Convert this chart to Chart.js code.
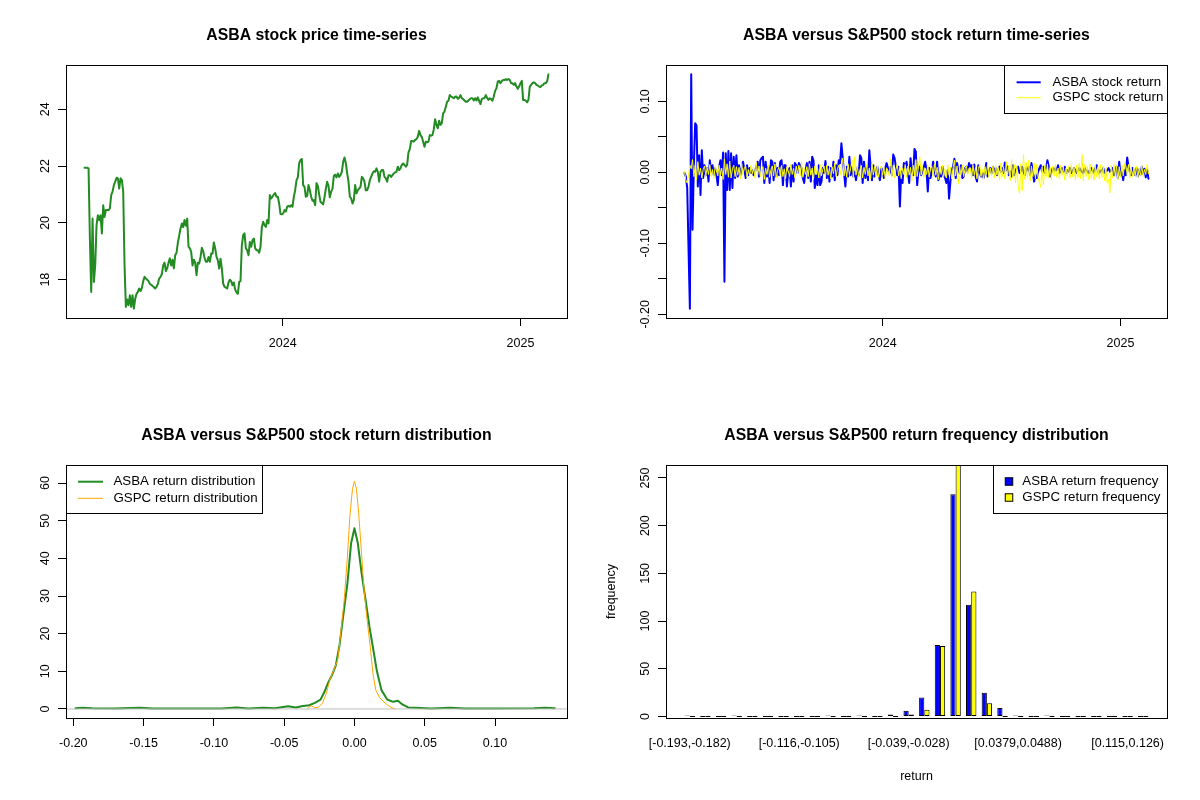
<!DOCTYPE html>
<html><head><meta charset="utf-8">
<script src="https://cdn.jsdelivr.net/npm/chart.js@4.4.1/dist/chart.umd.min.js"></script>
<style>
html,body{margin:0;padding:0;background:#fff;}
body{width:1200px;height:800px;position:relative;overflow:hidden;}
.p{position:absolute;width:600px;height:400px;}
canvas{display:block;}
</style></head><body>
<div class="p" style="left:0;top:0"><canvas id="c1" width="600" height="400"></canvas></div>
<div class="p" style="left:600px;top:0"><canvas id="c2" width="600" height="400"></canvas></div>
<div class="p" style="left:0;top:400px"><canvas id="c3" width="600" height="400"></canvas></div>
<div class="p" style="left:600px;top:400px"><canvas id="c4" width="600" height="400"></canvas></div>
<script>
// ---------------- DATA ----------------
const seriesStartDate = '2023-03-02';
const seriesEndDate = '2025-02-13';
const yearTickDates = ['2024-01-01', '2025-01-01'];
const yearTickLabels = ['2024', '2025'];

const asbaPrice = [
21.94,21.94,21.94,21.92,19.45,17.57,20.15,17.92,18.51,19.92,20.27,20.09,20.27,19.63,20.62,20.21,20.45,20.45,20.45,20.51,
20.98,21.10,21.33,21.45,21.59,21.57,21.21,21.57,21.51,21.10,18.5,17.04,17.3,17.1,17.45,17.04,17.45,16.98,17.33,17.5,
17.57,17.69,17.6,17.7,17.95,18.1,18.04,18.0,17.95,17.85,17.82,17.78,17.74,17.69,17.75,17.85,18.04,18.1,18.2,18.5,
18.6,18.3,18.4,18.6,18.75,18.5,18.7,18.4,18.86,18.95,19.3,19.55,19.8,19.98,19.85,20.1,19.9,20.15,19.16,19.1,
18.98,18.5,18.7,18.6,18.16,18.6,18.57,18.80,19.12,19.0,18.77,18.63,18.63,18.8,18.63,18.92,18.92,19.31,19.1,18.8,
18.68,18.39,18.74,18.39,17.86,17.75,17.72,17.69,17.9,18.0,17.95,17.8,17.9,17.65,17.55,17.5,17.92,17.95,19.21,19.57,
19.63,19.1,19.04,18.86,19.33,19.16,19.39,19.45,19.1,19.04,19.04,18.95,19.16,19.85,20.04,19.92,19.86,20.1,19.98,20.98,
20.86,20.92,21.0,21.05,20.92,20.92,20.68,20.31,20.3,20.33,20.45,20.4,20.57,20.6,20.57,20.62,20.57,20.92,21.15,21.5,
21.6,22.1,22.21,22.25,21.33,21.27,20.92,20.95,21.33,21.15,20.92,20.78,20.8,20.62,21.4,
21.3,21.0,20.74,20.7,20.65,20.9,21.2,21.45,21.3,20.9,21.1,21.2,21.65,21.7,21.6,21.74,21.62,21.68,21.8,22.15,
22.3,22.1,21.75,21.45,20.92,20.86,20.68,20.8,21.33,21.04,21.15,21.21,21.27,21.62,21.57,21.45,21.15,21.15,21.27,21.5,
21.62,21.74,21.82,21.8,21.92,21.8,21.45,21.8,21.86,21.86,21.62,21.57,21.45,21.68,21.68,21.62,21.68,21.74,21.78,21.8,
21.98,21.86,21.92,22.04,22.09,22.04,21.98,22.04,22.48,22.6,22.88,22.88,22.86,22.92,22.95,23.03,23.24,23.09,23.03,22.86,
22.68,22.86,22.84,22.86,23.09,23.07,23.09,23.3,23.65,23.45,23.33,23.6,23.45,23.51,23.86,23.92,24.09,24.27,24.3,24.5,
24.45,24.42,24.39,24.44,24.45,24.37,24.4,24.5,24.39,24.36,24.31,24.27,24.27,24.31,24.36,24.39,24.39,24.31,24.39,24.31,
24.42,24.3,24.18,24.36,24.39,24.39,24.5,24.4,24.33,24.39,24.36,24.3,24.45,24.65,24.74,24.98,25.0,24.92,25.0,25.03,
25.03,25.06,25.03,25.07,25.03,24.92,24.92,24.86,24.92,24.8,24.72,24.80,24.92,25.0,24.33,24.33,24.3,24.25,24.33,24.8,
24.86,24.92,24.95,24.92,24.86,24.84,24.80,24.78,24.84,24.86,24.92,24.92,24.98,25.23
];

const asbaReturn = [
-0.001,-0.006,-0.022,-0.109,-0.192,0.138,-0.081,0.010,0.069,0.066,-0.020,0.024,-0.032,0.031,-0.008,0.010,-0.004,0.006,-0.013,0.017,
0.001,0.010,-0.004,0.006,-0.004,-0.018,0.008,0.017,-0.004,0.028,-0.154,0.027,-0.025,0.030,-0.025,0.027,-0.022,0.022,-0.008,0.024,
-0.006,0.010,-0.004,0.006,0.015,0.003,-0.008,0.010,-0.004,0.006,-0.001,0.003,-0.004,0.001,0.008,0.015,-0.006,0.017,0.020,0.022,
-0.015,0.015,-0.006,0.008,-0.015,0.017,0.015,-0.011,0.013,-0.006,0.006,-0.004,0.015,0.017,-0.018,0.010,0.010,-0.020,0.001,0.006,
-0.020,0.010,-0.013,0.013,0.010,-0.001,0.013,0.010,0.006,-0.008,-0.015,0.003,
0.013,-0.008,0.015,-0.013,0.022,0.017,-0.022,-0.004,-0.018,0.010,-0.018,-0.013,0.006,-0.001,0.016,-0.008,0.008,-0.013,0.006,-0.006,
0.015,-0.011,0.010,-0.004,0.017,0.013,0.041,0.020,-0.001,-0.020,0.008,-0.006,0.022,-0.004,0.008,-0.006,0.001,-0.011,0.006,-0.004,
0.024,0.020,-0.015,0.015,-0.008,0.006,-0.011,0.031,0.008,-0.011,0.010,-0.006,0.001,0.008,-0.004,-0.011,0.006,0.003,-0.008,0.006,
0.013,0.006,-0.001,0.008,-0.004,0.025,0.020,0.008,-0.004,0.008,-0.048,0.001,-0.015,0.013,0.006,0.015,0.001,-0.015,0.020,0.001,
-0.004,0.033,0.029,-0.018,0.003,0.008,-0.004,0.001,0.008,0.015,0.003,-0.027,0.006,-0.008,0.001,0.015,0.003,-0.006,0.015,-0.011,
-0.001,-0.006,0.008,-0.004,-0.008,-0.015,0.003,-0.037,-0.013,0.003,0.008,0.019,-0.008,0.013,0.003,-0.001,0.010,-0.008,-0.006,0.006,
0.008,0.001,0.013,
0.008,0.010,-0.004,0.011,-0.006,-0.013,0.010,0.001,-0.006,-0.001,-0.008,0.001,0.013,-0.006,0.001,0.006,-0.001,0.008,0.001,0.006,
-0.004,0.003,0.008,0.001,0.006,-0.001,0.014,0.003,0.008,-0.004,0.001,-0.006,0.010,-0.004,0.003,0.006,0.008,-0.001,0.001,0.008,
0.001,-0.004,0.006,0.003,0.008,-0.004,0.013,0.001,-0.013,-0.004,-0.008,0.001,0.006,0.010,0.001,0.008,-0.001,0.006,0.017,0.008,
-0.006,0.001,0.006,0.001,0.006,0.003,0.010,-0.001,0.001,0.006,0.001,0.008,-0.001,0.003,0.001,0.006,-0.001,0.001,0.006,0.003,
-0.001,0.001,0.006,0.003,0.001,-0.001,0.006,0.001,0.003,-0.001,0.001,0.006,0.003,-0.001,0.006,0.010,0.001,-0.001,0.003,0.001,
0.006,-0.001,0.001,0.003,0.006,0.001,0.003,0.006,-0.004,0.001,0.008,-0.008,0.015,-0.004,0.001,-0.011,0.003,-0.004,0.021,0.008,
0.001,-0.004,0.006,
0.003,-0.004,0.006,-0.006,0.004,-0.003,0.008,-0.002,0.005,-0.007,0.004,-0.009
];

const gspcReturn = [
0.001,-0.011,-0.015,-0.004,0.010,0.005,0.018,-0.006,0.010,-0.011,0.015,-0.004,0.006,-0.008,0.004,0.009,-0.005,0.007,-0.003,0.011,
-0.006,0.004,-0.009,0.008,0.002,-0.005,0.010,-0.004,0.006,-0.010,0.019,-0.003,0.012,-0.007,0.016,-0.008,0.005,0.010,-0.006,0.008,
-0.004,0.007,-0.009,0.012,-0.003,0.006,0.009,-0.007,0.004,-0.005,0.010,-0.002,0.007,-0.008,0.014,-0.004,0.009,-0.006,0.003,0.008,
-0.010,0.006,-0.003,0.011,-0.007,0.004,0.009,-0.005,0.012,-0.008,0.003,0.007,-0.004,0.010,-0.006,0.005,-0.009,0.008,0.002,-0.006,
0.011,-0.003,0.006,-0.008,0.009,-0.002,0.010,-0.005,0.015,-0.007,0.006,-0.003,
0.008,-0.006,0.012,-0.004,0.006,-0.010,0.009,-0.003,0.007,-0.008,0.011,-0.005,0.004,0.009,-0.007,0.010,-0.004,0.006,-0.009,0.008,
-0.002,0.013,-0.006,0.005,0.010,-0.004,0.008,0.020,-0.005,0.009,-0.007,0.012,-0.003,0.006,0.018,-0.008,0.022,-0.004,0.009,-0.006,
0.004,0.010,-0.008,0.007,-0.003,0.011,-0.005,0.006,-0.009,0.012,-0.004,0.008,-0.006,0.010,-0.007,0.005,0.009,-0.004,0.007,-0.010,
0.006,0.003,-0.005,0.019,-0.006,0.010,-0.008,0.004,0.012,-0.005,0.008,-0.009,0.006,-0.003,0.011,-0.007,0.009,-0.004,0.007,-0.012,
0.010,-0.005,0.018,-0.006,0.008,0.022,-0.004,0.009,-0.008,0.006,-0.003,0.011,-0.007,0.005,0.009,-0.006,0.012,-0.004,0.007,-0.010,
0.008,-0.003,0.010,-0.006,0.005,-0.008,0.011,-0.004,0.007,-0.009,0.006,0.017,-0.005,0.009,-0.016,0.008,-0.004,0.010,-0.006,0.005,
0.009,-0.003,0.006,
0.006,-0.008,0.010,-0.004,0.007,-0.009,0.005,0.011,-0.006,0.004,-0.010,0.008,-0.003,0.012,-0.007,0.006,-0.005,0.009,-0.008,0.010,
-0.004,0.007,-0.011,0.013,-0.006,0.008,-0.009,0.015,-0.005,0.010,-0.012,0.018,-0.008,0.011,-0.015,0.009,-0.020,-0.030,0.012,-0.026,
0.025,-0.010,0.014,-0.008,0.017,-0.012,0.009,-0.006,0.013,-0.009,0.011,-0.007,-0.015,-0.021,0.008,-0.018,0.010,-0.006,0.012,-0.008,
0.007,-0.010,0.009,-0.005,0.011,-0.007,0.006,-0.009,0.010,-0.004,0.008,-0.011,0.006,-0.005,0.009,-0.008,0.012,-0.006,0.007,-0.010,
0.010,-0.007,0.013,-0.009,0.025,-0.012,0.011,-0.006,0.009,-0.010,0.012,-0.008,0.007,-0.011,0.010,-0.006,0.008,-0.009,0.011,-0.007,
0.009,-0.012,0.007,-0.015,-0.010,-0.029,0.010,-0.008,0.012,-0.006,0.009,-0.011,0.008,-0.007,0.010,-0.005,0.012,0.010,-0.004,0.011,
-0.008,0.006,-0.006,
0.007,-0.005,0.009,-0.008,0.006,-0.004,0.010,-0.006,0.004,-0.003,0.011,-0.002
];
const returnTicks = [-0.20,-0.15,-0.10,-0.05,0.00,0.05,0.10];

const asbaDensX = [-0.1984,-0.1935,-0.1867,-0.1705,-0.1528,-0.1434,-0.1163,-0.0946,-0.0837,-0.0756,-0.0648,-0.0566,-0.0472,-0.0417,-0.0377,-0.0322,-0.0282,-0.0241,-0.0214,-0.0187,-0.016,-0.0133,-0.0106,-0.0079,-0.0051,-0.0024,0.0,0.0024,0.0051,0.0079,0.0106,0.0133,0.016,0.0192,0.0233,0.0274,0.0309,0.0341,0.0382,0.0436,0.0545,0.068,0.0789,0.1005,0.1276,0.1358,0.1425];
const asbaDensY = [0.2,0.35,0.2,0.15,0.35,0.15,0.15,0.15,0.4,0.15,0.3,0.2,0.7,0.4,0.7,1.0,1.6,2.5,4.5,7.0,9.0,11.5,17,25,33,44,48,44,36,29,22,16,10,5,2.5,1.9,2.2,1.2,0.4,0.3,0.15,0.35,0.15,0.15,0.2,0.35,0.2];
const gspcDensX = [-0.0336,-0.0309,-0.0282,-0.0255,-0.0228,-0.0201,-0.0173,-0.0146,-0.0119,-0.0098,-0.0073,-0.0051,-0.0033,-0.0014,0,0.0014,0.003,0.0051,0.007,0.0089,0.0111,0.0133,0.0152,0.0179,0.022,0.026,0.0287];
const gspcDensY = [0.05,0.9,0.3,0.5,1.5,4,8,10.5,13,20,29,40,51,58.5,60.5,58.5,52,41,31,24,17,9,5,3,1.5,0.4,0.05];
const densXTicks = [-0.20,-0.15,-0.10,-0.05,0.00,0.05,0.10];
const densYTicks = [0,10,20,30,40,50,60];

const binLabels = ['[-0.193,-0.182)','[-0.182,-0.171)','[-0.171,-0.16)','[-0.16,-0.149)','[-0.149,-0.138)','[-0.138,-0.127)','[-0.127,-0.116)','[-0.116,-0.105)','[-0.105,-0.094)','[-0.094,-0.083)','[-0.083,-0.072)','[-0.072,-0.061)','[-0.061,-0.05)','[-0.05,-0.039)','[-0.039,-0.028)','[-0.028,-0.0171)','[-0.0171,-0.00608)','[-0.00608,0.00491)','[0.00491,0.0159)','[0.0159,0.0269)','[0.0269,0.0379)','[0.0379,0.0488)','[0.0488,0.0598)','[0.0598,0.0708)','[0.0708,0.0818)','[0.0818,0.0928)','[0.0928,0.104)','[0.104,0.115)','[0.115,0.126)','[0.126,0.137)'];
const asbaFreq = [1,0,0,1,0,0,0,0,0,1,0,1,0,2,6,20,75,233,117,25,9,1,0,1,0,0,0,0,0,0];
const gspcFreq = [0,0,0,0,0,0,0,0,0,0,0,0,0,0,2,7,74,265,131,14,0,0,0,0,0,0,0,0,0,0];
const freqTicks = [0,50,100,150,200,250];

// ---------------- HELPERS ----------------
const FONT = '"Liberation Sans", Arial, Helvetica, sans-serif';
const EPOCH = Date.parse('2024-01-01T00:00:00Z');
function dayNum(s){ return (Date.parse(s + 'T00:00:00Z') - EPOCH) / 86400000; }
function timeSeries(values){
  const a = dayNum(seriesStartDate), b = dayNum(seriesEndDate), n = values.length;
  return values.map((v, i) => ({x: a + (b - a) * i / (n - 1), y: v}));
}
function rRange(mn, mx){ const p = 0.04 * (mx - mn); return [mn - p, mx + p]; }
function arrMin(a){ return Math.min.apply(null, a); }
function arrMax(a){ return Math.max.apply(null, a); }

const rPlot = {
  id: 'rPlot',
  afterDraw(chart, args, o){
    const ctx = chart.ctx, a = chart.chartArea;
    const xs = chart.scales.x, ys = chart.scales.y;
    ctx.save();
    ctx.fillStyle = '#000'; ctx.strokeStyle = '#000'; ctx.lineWidth = 1;
    const L = Math.round(a.left) + 0.5, T = Math.round(a.top) + 0.5, R = Math.round(a.right) + 0.5, B = Math.round(a.bottom) + 0.5;
    ctx.strokeRect(L, T, R - L, B - T);
    // title
    ctx.font = 'bold 15.8px ' + FONT; ctx.textAlign = 'center'; ctx.textBaseline = 'alphabetic';
    ctx.fillText(o.title, (a.left + a.right) / 2, 40);
    // tick labels
    ctx.font = '12.5px ' + FONT;
    xs.ticks.forEach((t, i) => { const lab = o.xLabel(t.value, i); if (lab) ctx.fillText(lab, xs.getPixelForValue(t.value), 347); });
    ys.ticks.forEach((t, i) => {
      const lab = o.yLabel(t.value, i); if (!lab) return;
      ctx.save(); ctx.translate(48.5, ys.getPixelForValue(t.value)); ctx.rotate(-Math.PI / 2);
      ctx.fillText(lab, 0, 0); ctx.restore();
    });
    if (o.xTitle) ctx.fillText(o.xTitle, (a.left + a.right) / 2, 379.5);
    if (o.yTitle) { ctx.save(); ctx.translate(14.5, (a.top + a.bottom) / 2); ctx.rotate(-Math.PI / 2); ctx.fillText(o.yTitle, 0, 0); ctx.restore(); }
    // legend
    if (o.legend) {
      const lg = o.legend;
      const x1 = Math.round(lg.x1) + 0.5, y2 = Math.round(lg.y2) + 0.5;
      const x2 = lg.x2 !== undefined ? Math.round(lg.x2) + 0.5 : R;
      ctx.strokeStyle = '#000'; ctx.lineWidth = 1;
      ctx.strokeRect(x1, T, x2 - x1, y2 - T);
      ctx.font = '13.3px ' + FONT; ctx.textAlign = 'left'; ctx.textBaseline = 'middle';
      lg.items.forEach((it, i) => {
        const y = lg.rows[i];
        if (it.type === 'line') {
          ctx.strokeStyle = it.color; ctx.lineWidth = it.lw; ctx.lineCap = 'butt';
          ctx.beginPath(); ctx.moveTo(lg.s1, y); ctx.lineTo(lg.s2, y); ctx.stroke();
        } else {
          const s = lg.size;
          ctx.fillStyle = it.color; ctx.fillRect(lg.sc - s / 2, y - s / 2, s, s);
          ctx.strokeStyle = '#000'; ctx.lineWidth = 1; ctx.strokeRect(lg.sc - s / 2, y - s / 2, s, s);
        }
        ctx.fillStyle = '#000';
        ctx.fillText(it.label, lg.tx, y);
      });
    }
    ctx.restore();
  }
};

function axisX(min, max, ticks, drawTicks){
  return {
    type: 'linear', min: min, max: max, offset: false,
    grid: {display: drawTicks, offset: false, drawOnChartArea: false, drawTicks: true, tickLength: 8, color: '#000', lineWidth: 1},
    border: {display: false},
    ticks: {display: false},
    afterBuildTicks: s => { s.ticks = ticks.map(v => ({value: v})); },
    afterFit: s => { s.height = 10; }
  };
}
function axisY(min, max, ticks){
  return {
    type: 'linear', min: min, max: max,
    grid: {display: true, drawOnChartArea: false, drawTicks: true, tickLength: 8, color: '#000', lineWidth: 1},
    border: {display: false},
    ticks: {display: false},
    afterBuildTicks: s => { s.ticks = ticks.map(v => ({value: v})); },
    afterFit: s => { s.width = 10; }
  };
}
const baseOpts = {
  responsive: false, animation: false, events: [],
  layout: {padding: {left: 56, right: 33, top: 65, bottom: 72}},
  elements: {point: {radius: 0}, line: {tension: 0, borderJoinStyle: 'round', borderCapStyle: 'round'}}
};
function opts(extra){ return Object.assign({}, baseOpts, extra); }

const dayMin = dayNum(seriesStartDate), dayMax = dayNum(seriesEndDate);
const [xMinT, xMaxT] = rRange(dayMin, dayMax);
const yearTicks = yearTickDates.map(dayNum);
const yearLabel = (v) => { const k = yearTicks.indexOf(v); return k >= 0 ? yearTickLabels[k] : ''; };

// ---------------- CHART 1: price ----------------
const [pMin, pMax] = rRange(arrMin(asbaPrice), arrMax(asbaPrice));
new Chart(document.getElementById('c1'), {
  type: 'line',
  data: {datasets: [{data: timeSeries(asbaPrice), borderColor: '#228B22', borderWidth: 2, fill: false}]},
  options: opts({
    scales: {x: axisX(xMinT, xMaxT, yearTicks, true), y: axisY(pMin, pMax, [18, 20, 22, 24])},
    plugins: {legend: {display: false}, tooltip: {enabled: false},
      rPlot: {title: 'ASBA stock price time-series', xLabel: yearLabel, yLabel: v => String(v)}}
  }),
  plugins: [rPlot]
});

// ---------------- CHART 2: returns ----------------
const [rMin, rMax] = rRange(Math.min(arrMin(asbaReturn), arrMin(gspcReturn)), Math.max(arrMax(asbaReturn), arrMax(gspcReturn)));
new Chart(document.getElementById('c2'), {
  type: 'line',
  data: {datasets: [
    {data: timeSeries(asbaReturn), borderColor: '#0000FF', borderWidth: 2, fill: false, order: 2},
    {data: timeSeries(gspcReturn), borderColor: '#FFFF00', borderWidth: 1, fill: false, order: 1}
  ]},
  options: opts({
    scales: {x: axisX(xMinT, xMaxT, yearTicks, true), y: axisY(rMin, rMax, returnTicks)},
    plugins: {legend: {display: false}, tooltip: {enabled: false},
      rPlot: {title: 'ASBA versus S&P500 stock return time-series', xLabel: yearLabel,
        yLabel: (v, i) => (i % 2 === 0 ? v.toFixed(2) : ''),
        legend: {x1: 404, y2: 113.3, s1: 416.6, s2: 440.7, tx: 452.5, rows: [82.3, 97.7],
          items: [{type: 'line', color: '#0000FF', lw: 2, label: 'ASBA stock return'},
                  {type: 'line', color: '#FFFF00', lw: 1, label: 'GSPC stock return'}]}}}
  }),
  plugins: [rPlot]
});

// ---------------- CHART 3: density ----------------
const [dxMin, dxMax] = rRange(arrMin(asbaReturn), arrMax(asbaReturn));
new Chart(document.getElementById('c3'), {
  type: 'line',
  data: {datasets: [
    {data: asbaDensX.map((x, i) => ({x: x, y: asbaDensY[i]})), borderColor: '#228B22', borderWidth: 2, fill: false, order: 3},
    {data: gspcDensX.map((x, i) => ({x: x, y: gspcDensY[i]})), borderColor: '#FFA500', borderWidth: 1, fill: false, order: 2},
    {data: [{x: dxMin, y: 0}, {x: dxMax, y: 0}], borderColor: '#BEBEBE', borderWidth: 1, fill: false, order: 1}
  ]},
  options: opts({
    scales: {x: axisX(dxMin, dxMax, densXTicks, true), y: axisY(-2.4, 64.8, densYTicks)},
    plugins: {legend: {display: false}, tooltip: {enabled: false},
      rPlot: {title: 'ASBA versus S&P500 stock return distribution',
        xLabel: v => v.toFixed(2), yLabel: v => String(v),
        legend: {x1: 66, x2: 261.5, y2: 113.3, s1: 78, s2: 103, tx: 113.5, rows: [81.7, 98.3],
          items: [{type: 'line', color: '#228B22', lw: 2, label: 'ASBA return distribution'},
                  {type: 'line', color: '#FFA500', lw: 1, label: 'GSPC return distribution'}]}}}
  }),
  plugins: [rPlot]
});

// ---------------- CHART 4: histogram ----------------
const nBins = binLabels.length;
const hxMin = ((1 - 0.04 * (3 * nBins - 1)) - 2) / 3;
const hxMax = ((3 * nBins + 0.04 * (3 * nBins - 1)) - 2) / 3;
const barCommon = {borderColor: '#000', borderWidth: 1, borderSkipped: false, minBarLength: 1, categoryPercentage: 2 / 3, barPercentage: 1};
new Chart(document.getElementById('c4'), {
  type: 'bar',
  data: {datasets: [
    Object.assign({data: asbaFreq.map((v, i) => ({x: i, y: v})), backgroundColor: '#0000FF'}, barCommon),
    Object.assign({data: gspcFreq.map((v, i) => ({x: i, y: v})), backgroundColor: '#FFFF00'}, barCommon)
  ]},
  options: opts({
    scales: {
      x: axisX(hxMin, hxMax, binLabels.map((_, i) => i).filter(i => i % 7 === 0), false),
      y: axisY(-1.57, 263.6, freqTicks)
    },
    plugins: {legend: {display: false}, tooltip: {enabled: false},
      rPlot: {title: 'ASBA versus S&P500 return frequency distribution',
        xLabel: v => binLabels[v], yLabel: v => String(v), xTitle: 'return', yTitle: 'frequency',
        legend: {x1: 393.3, y2: 113.3, sc: 409, size: 7.5, tx: 422.3, rows: [81.5, 97.5],
          items: [{type: 'box', color: '#0000FF', label: 'ASBA return frequency'},
                  {type: 'box', color: '#FFFF00', label: 'GSPC return frequency'}]}}}
  }),
  plugins: [rPlot]
});
</script>
</body></html>
